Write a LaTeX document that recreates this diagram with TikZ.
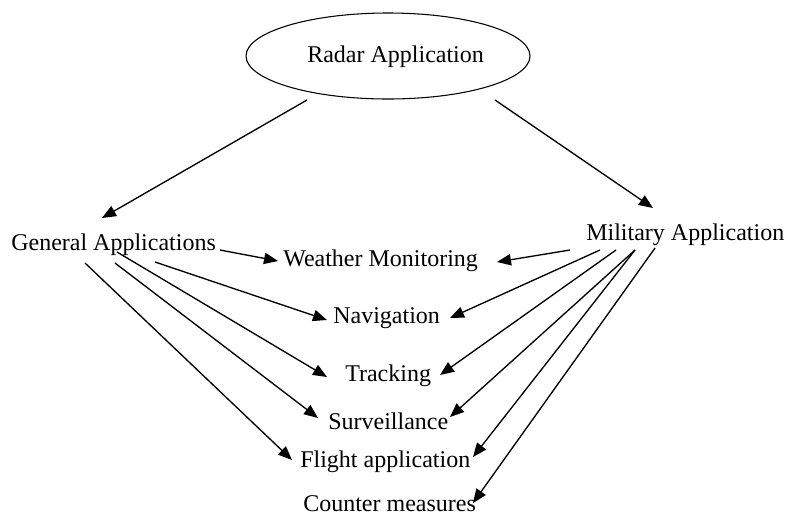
\documentclass[tikz,border=0pt]{standalone}
\usepackage{fontspec}
\setmainfont{Liberation Serif}
\usetikzlibrary{arrows.meta,shapes.geometric}
\begin{document}
\begin{tikzpicture}[x=0.75pt,y=-0.75pt,
  lbl/.style={inner sep=0pt,anchor=base west,font=\fontsize{18}{20}\selectfont},
  arr/.style={line width=1pt,-{Triangle[length=10.5pt,width=8.5pt]}},
  oval/.style={draw,ellipse,line width=0.8pt,minimum width=284*0.75pt,minimum height=86*0.75pt,inner sep=0pt}]
\useasboundingbox (0,0) rectangle (787,515);
\node[oval] (shape) at (388,56) {};
\node[lbl] (radar) at (307,62) {Radar Application};
\node[lbl] (gen) at (11,250) {General Applications};
\node[lbl] (mil) at (586,240) {Military Application};
\node[lbl] (wea) at (283,266) {Weather Monitoring};
\node[lbl] (nav) at (333,323) {Navigation};
\node[lbl] (trk) at (345,381) {Tracking};
\node[lbl] (sur) at (328,429) {Surveillance};
\node[lbl] (fli) at (300,467) {Flight application};
\node[lbl] (cou) at (303,511) {Counter measures};
% from radar
\draw[arr] ([shift={(0,38)}]radar.base west) -- ([shift={(91,-32)}]gen.base west);
\draw[arr] ([shift={(188,38)}]radar.base west) -- ([shift={(67,-32)}]mil.base west);
% general applications
\draw[arr] ([shift={(209,0)}]gen.base west) -- ([shift={(-5,-5)}]wea.base west);
\draw[arr] ([shift={(144,12)}]gen.base west) -- ([shift={(-6,-3)}]nav.base west);
\draw[arr] ([shift={(106,2)}]gen.base west) -- ([shift={(-18,-4)}]trk.base west);
\draw[arr] ([shift={(104,13)}]gen.base west) -- ([shift={(-10,-11)}]sur.base west);
\draw[arr] ([shift={(74,13)}]gen.base west) -- ([shift={(-8,-7)}]fli.base west);
% military application
\draw[arr] ([shift={(-16,10)}]mil.base west) -- ([shift={(214,-4)}]wea.base west);
\draw[arr] ([shift={(14,10)}]mil.base west) -- ([shift={(117,-5)}]nav.base west);
\draw[arr] ([shift={(30,10)}]mil.base west) -- ([shift={(95,-6)}]trk.base west);
\draw[arr] ([shift={(49,10)}]mil.base west) -- ([shift={(122,-12)}]sur.base west);
\draw[arr] ([shift={(49,10)}]mil.base west) -- ([shift={(173,-10)}]fli.base west);
\draw[arr] ([shift={(69,8)}]mil.base west) -- ([shift={(170,-8)}]cou.base west);
\end{tikzpicture}
\end{document}
